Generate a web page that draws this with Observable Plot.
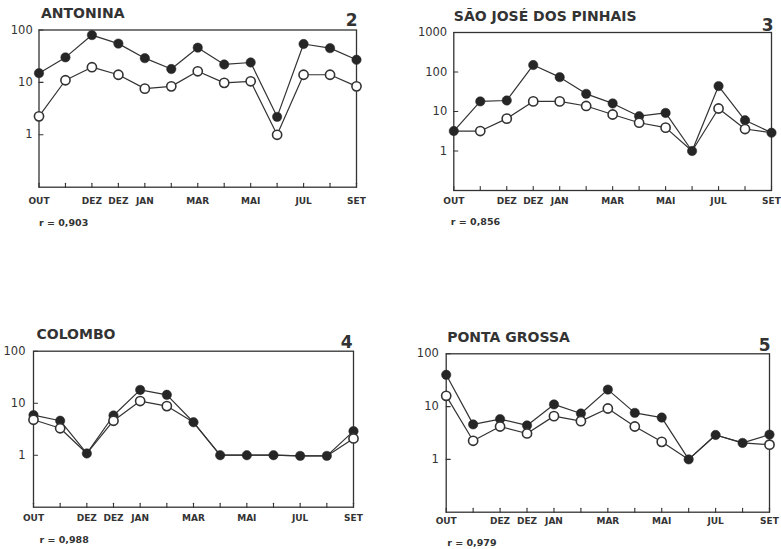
<!DOCTYPE html>
<html><head><meta charset="utf-8">
<script src="https://cdn.jsdelivr.net/npm/d3@7"></script>
<script src="https://cdn.jsdelivr.net/npm/@observablehq/plot@0.6"></script>
<style>
body{margin:0;background:#fff}
#c{position:relative;width:781px;height:549px;overflow:hidden;background:#fff}
#c svg{position:absolute}
</style>
</head><body><div id="c"></div>
<script>
// Month tick labels (13 positions)
const monthLabels = ["OUT","","DEZ","DEZ","JAN","","MAR","","MAI","","JUL","","SET"];

// Panel titles, numbers, correlation texts
const titles = ["ANTONINA","SÃO JOSÉ DOS PINHAIS","COLOMBO","PONTA GROSSA"];
const panelNumbers = ["2","3","4","5"];
const rTexts = ["r = 0,903","r = 0,856","r = 0,988","r = 0,979"];

// Series: filled circles and open circles
const antoninaFilled = [15, 30, 80, 55, 29, 18, 46, 22, 24, 2.2, 54, 45, 27];
const antoninaOpen   = [2.25, 11, 19.5, 14, 7.6, 8.4, 16.3, 9.8, 10.5, 1, 14, 14, 8.4];
const saoJoseFilled  = [3.2, 18, 19, 150, 74, 28, 16, 7.6, 9.2, 1, 44, 6, 2.9];
const saoJoseOpen    = [3.2, 3.2, 6.6, 18, 18, 13.8, 8.4, 5.2, 3.9, 1, 11.9, 3.6, 2.9];
const colomboFilled  = [5.9, 4.6, 1.08, 5.8, 18, 14.5, 4.3, 1, 1, 1, 0.97, 0.97, 2.9];
const colomboOpen    = [4.8, 3.3, 1.08, 4.6, 11, 8.8, 4.3, 1, 1, 1, 0.97, 0.97, 2.1];
const pontaFilled    = [40, 4.6, 5.8, 4.4, 11, 7.4, 21, 7.6, 6.2, 1, 2.9, 2.05, 2.95];
const pontaOpen      = [16, 2.25, 4.2, 3.1, 6.6, 5.3, 9.2, 4.2, 2.15, 1, 2.9, 2.05, 1.9];

// Y tick values
const yTicks3 = [1, 10, 100];
const yTicks4 = [1, 10, 100, 1000];

const ink = "#333";
const dotInk = "#262626";
const positions = d3.range(monthLabels.length);
const tickShape = {draw(ctx, l) { ctx.moveTo(0, 0); ctx.lineTo(0, -l); }};

const panels = [
  {left: 0, top: 0, w: 390, h: 270, mL: 38.5, mR: 34, mT: 29.5, mB: 83.3, yDom: [0.1, 100], yTicks: yTicks3,
   filled: antoninaFilled, open: antoninaOpen, xPad: 10, yPad: 6.3,
   tdx: 2, ndx: 1, ndy: -4.5, rdx: 0, rdy: 38.7},
  {left: 390, top: 0, w: 391, h: 270, mL: 63.3, mR: 10, mT: 32, mB: 80, yDom: [0.1, 1000], yTicks: yTicks4,
   filled: saoJoseFilled, open: saoJoseOpen, xPad: 7, yPad: 6.6,
   tdx: 0, ndx: 2, ndy: -2, rdx: -3, rdy: 34.5},
  {left: 0, top: 280, w: 390, h: 269, mL: 33, mR: 37, mT: 70.7, mB: 42.3, yDom: [0.1, 100], yTicks: yTicks3,
   filled: colomboFilled, open: colomboOpen, xPad: 7, yPad: 8,
   tdx: 3, ndx: -1, ndy: -3.7, rdx: 6, rdy: 35.6},
  {left: 390, top: 280, w: 391, h: 269, mL: 55.7, mR: 12, mT: 73.3, mB: 37.3, yDom: [0.1, 100], yTicks: yTicks3,
   filled: pontaFilled, open: pontaOpen, xPad: 5.3, yPad: 7.4,
   tdx: 1, ndx: 1, ndy: -3.3, rdx: 1, rdy: 33.6}
];

const container = document.getElementById("c");

panels.forEach((p, k) => {
  const filled = p.filled, open = p.open;
  const svg = Plot.plot({
    width: p.w, height: p.h,
    marginLeft: p.mL, marginRight: p.mR, marginTop: p.mT, marginBottom: p.mB,
    style: {fontFamily: "DejaVu Sans", color: ink, background: "transparent", overflow: "visible"},
    x: {type: "linear", domain: [0, 12]},
    y: {type: "log", domain: p.yDom},
    marks: [
      Plot.frame({stroke: ink, strokeWidth: 1.3}),
      Plot.vector(positions, {x: d => d, frameAnchor: "bottom", rotate: 0, length: 4, anchor: "start", shape: tickShape, stroke: ink, strokeWidth: 1.1}),
      Plot.vector(p.yTicks, {y: d => d, frameAnchor: "left", rotate: 90, length: 4, anchor: "start", shape: tickShape, stroke: ink, strokeWidth: 1.1}),
      Plot.axisX(positions, {tickSize: 0, tickPadding: p.xPad, tickFormat: i => monthLabels[i], fontSize: 9, fontWeight: "bold", fill: ink}),
      Plot.axisY(p.yTicks, {tickSize: 0, tickPadding: p.yPad, tickFormat: d => String(d), fontSize: 11.5, fill: ink}),
      Plot.line(filled, {x: (d, i) => i, y: d => d, stroke: ink, strokeWidth: 1.2}),
      Plot.line(open, {x: (d, i) => i, y: d => d, stroke: ink, strokeWidth: 1.2}),
      Plot.dot(filled, {x: (d, i) => i, y: d => d, r: 4.7, fill: dotInk, stroke: dotInk, strokeWidth: 0.5}),
      Plot.dot(open, {x: (d, i) => i, y: d => d, r: 4.6, fill: "white", stroke: ink, strokeWidth: 1.6,
        filter: (d, i) => open[i] !== filled[i]}),
      Plot.text([titles[k]], {frameAnchor: "top-left", dx: p.tdx, dy: -12, textAnchor: "start", lineAnchor: "bottom", fontSize: 14, fontWeight: "bold", fill: ink}),
      Plot.text([panelNumbers[k]], {frameAnchor: "top-right", dx: p.ndx, dy: p.ndy, textAnchor: "end", lineAnchor: "bottom", fontSize: 17, fontWeight: "bold", fill: ink}),
      Plot.text([rTexts[k]], {frameAnchor: "bottom-left", dx: p.rdx, dy: p.rdy, textAnchor: "start", lineAnchor: "bottom", fontSize: 9.5, fontWeight: "bold", fill: ink})
    ]
  });
  svg.style.left = p.left + "px";
  svg.style.top = p.top + "px";
  container.appendChild(svg);
});
</script>
</body></html>
